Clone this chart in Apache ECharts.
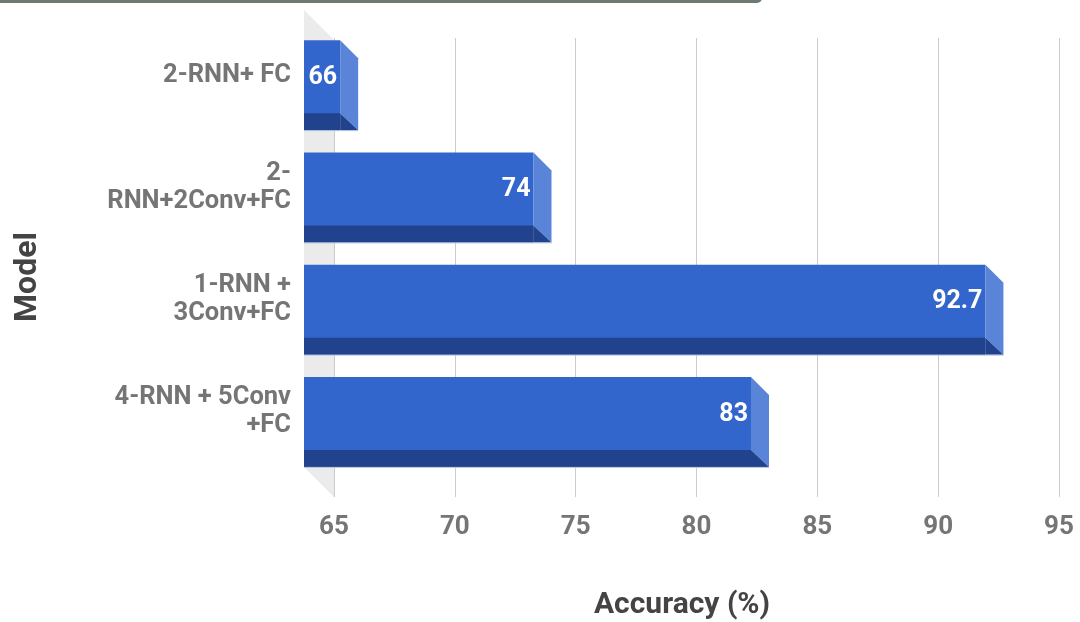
<!DOCTYPE html>
<html><head><meta charset="utf-8">
<script src="https://cdn.jsdelivr.net/npm/echarts@6/dist/echarts.min.js"></script>
<style>html,body{margin:0;padding:0;background:#fff}#c{width:1080px;height:622px}</style>
</head><body><div id="c"></div>
<script>
const categories = ['2-RNN+ FC', '2-\nRNN+2Conv+FC', '1-RNN +\n3Conv+FC', '4-RNN + 5Conv\n+FC'];
const accuracy = [66, 74, 92.7, 83];
const valueLabels = ['66', '74', '92.7', '83'];
const tickMin = 65, tickMax = 95, tickStep = 5;
const xTitle = 'Accuracy (%)';
const yTitle = 'Model';

const FONT = 'Roboto';
const DEPTH = 18, BAR_H = 90, STRIP = 17, LABEL_SHIFT = 28, WALL = 30;
const FRONT = '#3366cc', SIDE = '#5a84d8', DARK = '#21428c';

const chart = echarts.init(document.getElementById('c'));

function renderBar(params, api) {
  const idx = api.value(1), v = api.value(0);
  const c = api.coord([v, idx]);
  const xv = c[0];
  const yc = c[1] + LABEL_SHIFT;
  const x0 = api.coord([tickMin, idx])[0] - WALL;
  const xf = xv - DEPTH;
  const T = yc - DEPTH - BAR_H / 2;
  const B = yc - DEPTH + BAR_H / 2;
  return {
    type: 'group',
    children: [
      {type: 'rect', shape: {x: x0, y: T, width: xf - x0, height: B - T}, style: {fill: FRONT}},
      {type: 'rect', shape: {x: x0, y: B - STRIP, width: xf - x0, height: STRIP}, style: {fill: DARK}},
      {type: 'polygon', shape: {points: [[xf, T], [xv, T + DEPTH], [xv, B], [xf, B - STRIP]]}, style: {fill: SIDE}},
      {type: 'polygon', shape: {points: [[xf, B - STRIP], [xv, B], [xf, B]]}, style: {fill: DARK}},
      {type: 'line', shape: {x1: x0, y1: B + 0.5, x2: xv, y2: B + 0.5}, style: {stroke: '#b4c2de', lineWidth: 1}},
      {type: 'text', x: xf - 3, y: (T + B - STRIP) / 2 + 1,
        style: {text: valueLabels[params.dataIndex], fill: '#ffffff', font: 'bold 25px ' + FONT, align: 'right', verticalAlign: 'middle'}}
    ]
  };
}

chart.setOption({
  animation: false,
  grid: [
    {left: 334, right: 21, top: 38, bottom: 125},
    {left: 334, right: 21, top: 19, height: 449}
  ],
  xAxis: [
    {gridIndex: 0, type: 'value', min: tickMin, max: tickMax, interval: tickStep,
      axisLine: {show: false}, axisTick: {show: false},
      splitLine: {lineStyle: {color: '#cccccc', width: 1}},
      axisLabel: {color: '#757575', fontSize: 26, fontWeight: 'bold', fontFamily: FONT, margin: 17}},
    {gridIndex: 1, type: 'value', min: tickMin, max: tickMax, interval: tickStep, show: false}
  ],
  yAxis: [
    {gridIndex: 0, type: 'value', show: false},
    {gridIndex: 1, type: 'category', inverse: true, data: categories,
      axisLine: {show: false}, axisTick: {show: false}, splitLine: {show: false},
      axisLabel: {color: '#757575', fontSize: 25.5, fontWeight: 'bold', fontFamily: FONT, margin: 43, lineHeight: 28, align: 'right'}}
  ],
  series: [{
    type: 'custom', xAxisIndex: 1, yAxisIndex: 1,
    encode: {x: 0, y: 1},
    data: accuracy.map((v, i) => [v, i]),
    renderItem: renderBar
  }]
});

const x65 = chart.convertToPixel({xAxisIndex: 0}, tickMin);
chart.setOption({
  graphic: [
    {type: 'polygon', z: -1, silent: true,
      shape: {points: [[x65 - WALL, 10], [x65, 40], [x65, 497], [x65 - WALL, 467]]},
      style: {fill: '#ebebeb'}},
    {type: 'rect', silent: true, shape: {x: -10, y: -7, width: 772, height: 10, r: 6}, style: {fill: '#6d7a70'}},
    {type: 'text', silent: true, x: 682, y: 605,
      style: {text: xTitle, fill: '#444444', font: 'bold 30px ' + FONT, align: 'center', verticalAlign: 'middle'}},
    {type: 'text', silent: true, x: 28, y: 277, rotation: Math.PI / 2,
      style: {text: yTitle, fill: '#444444', font: 'bold 32px ' + FONT, align: 'center', verticalAlign: 'middle'}}
  ]
});
</script></body></html>
